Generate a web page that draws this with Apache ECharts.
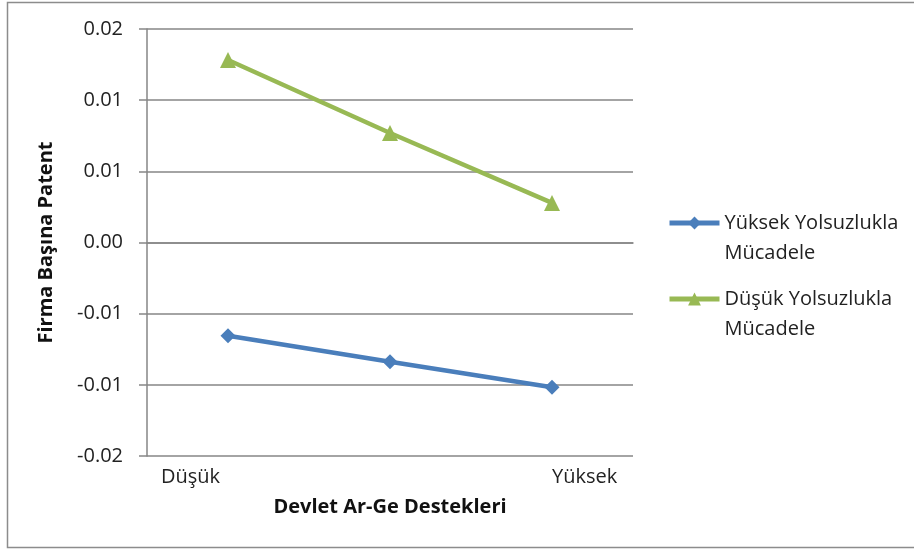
<!DOCTYPE html>
<html>
<head>
<meta charset="utf-8">
<script src="https://cdn.jsdelivr.net/npm/echarts@6/dist/echarts.min.js"></script>
<style>html,body{margin:0;padding:0;background:#fff}#c{width:914px;height:550px}</style>
</head>
<body>
<div id="c"></div>
<script>
var categories = ['Düşük', '', 'Yüksek'];
var seriesNames = ['Yüksek Yolsuzlukla\nMücadele', 'Düşük Yolsuzlukla\nMücadele'];
var yuksekValues = [-0.00655, -0.00838, -0.01017];
var dusukValues = [0.01282, 0.00769, 0.00278];
var yTickLabels = {'0.015': '0.02', '0.01': '0.01', '0.005': '0.01', '0': '0.00', '-0.005': '-0.01', '-0.01': '-0.01', '-0.015': '-0.02'};

var FONT = '"Open Sans", sans-serif';
var FS = 20;
var chart = echarts.init(document.getElementById('c'), null, {renderer: 'canvas'});
var legendText = {fontFamily: FONT, fontSize: FS, color: '#222', lineHeight: 30,
  rich: {s: {fontSize: FS, lineHeight: 30}}};
function legendFmt(name) { return '{s| }\n' + name; }
chart.setOption({
  animation: false,
  backgroundColor: '#fff',
  graphic: [{
    type: 'rect', shape: {x: 7.5, y: 2.5, width: 910, height: 545},
    style: {fill: 'none', stroke: '#8c8c8c', lineWidth: 1.5}, silent: true
  }],
  grid: {left: 147, right: 281, top: 29, bottom: 94, containLabel: false},
  legend: [{
    data: [seriesNames[0]], left: 662, top: 173, orient: 'vertical',
    itemWidth: 50, itemHeight: 16, itemGap: 0, textStyle: legendText,
    formatter: legendFmt, lineStyle: {width: 5}
  }, {
    data: [seriesNames[1]], left: 662, top: 249, orient: 'vertical',
    itemWidth: 50, itemHeight: 16, itemGap: 0, textStyle: legendText,
    formatter: legendFmt, lineStyle: {width: 5}
  }],
  xAxis: {
    type: 'category', data: categories, boundaryGap: true,
    name: 'Devlet Ar-Ge Destekleri', nameLocation: 'middle', nameGap: 41,
    nameTextStyle: {fontFamily: FONT, fontSize: FS, fontWeight: 'bold', color: '#111'},
    axisLine: {lineStyle: {color: '#868686', width: 1.5}},
    axisTick: {show: false},
    axisLabel: {
      interval: 0, margin: 11, fontFamily: FONT, fontSize: FS, color: '#222',
      alignMinLabel: 'right', alignMaxLabel: 'left',
      formatter: function (v) { return v === 'Düşük' ? '{l|' + v + '}' : v; },
      rich: {l: {fontFamily: FONT, fontSize: FS, color: '#222', padding: [0, 8, 0, 0]}}
    },
    splitLine: {show: false}
  },
  yAxis: {
    type: 'value', min: -0.015, max: 0.015, interval: 0.005,
    name: 'Firma Başına Patent', nameLocation: 'middle', nameGap: 91, nameRotate: 90,
    nameTextStyle: {fontFamily: FONT, fontSize: FS, fontWeight: 'bold', color: '#111'},
    axisLine: {show: true, lineStyle: {color: '#868686', width: 1.5}},
    axisTick: {show: true, length: 8, lineStyle: {color: '#868686', width: 1.5}},
    axisLabel: {
      margin: 24, fontFamily: FONT, fontSize: FS, color: '#222',
      formatter: function (v) {
        var k = String(Math.round(v * 1000) / 1000);
        return yTickLabels[k] !== undefined ? yTickLabels[k] : v.toFixed(2);
      }
    },
    splitLine: {lineStyle: {color: '#868686', width: 1.5}}
  },
  series: [{
    name: seriesNames[0], type: 'line', data: yuksekValues,
    symbol: 'diamond', symbolSize: 15,
    lineStyle: {color: '#4A7EBB', width: 4.5},
    itemStyle: {color: '#4A7EBB'}
  }, {
    name: seriesNames[1], type: 'line', data: dusukValues,
    symbol: 'triangle', symbolSize: 16,
    lineStyle: {color: '#98B954', width: 4.5},
    itemStyle: {color: '#98B954'}
  }]
});
</script>
</body>
</html>
